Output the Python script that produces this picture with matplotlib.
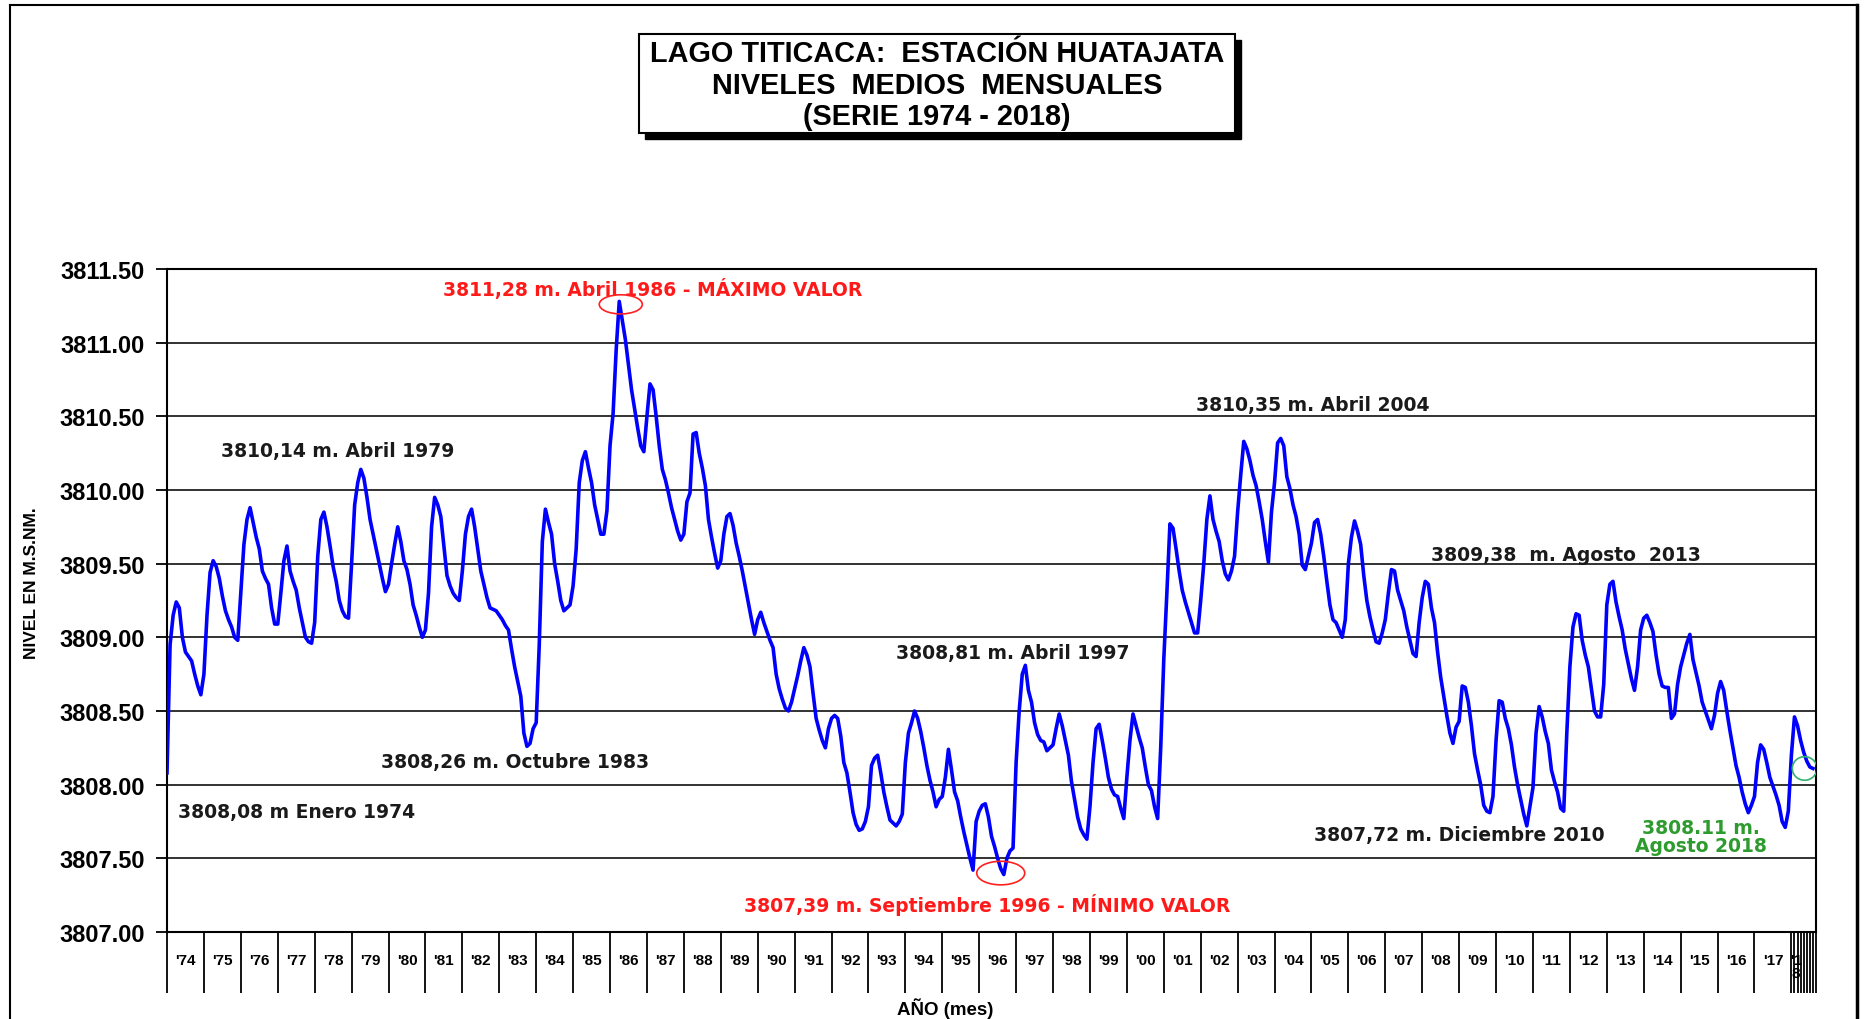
import numpy as np
import matplotlib
matplotlib.use("Agg")
import matplotlib.pyplot as plt
from matplotlib.patches import Ellipse, Rectangle
from matplotlib.lines import Line2D

# Niveles medios mensuales (m.s.n.m.), enero a diciembre de cada año
n1974 = [3808.08, 3808.95, 3809.15, 3809.24, 3809.20, 3809.00, 3808.90, 3808.87, 3808.84, 3808.75, 3808.67, 3808.61]
n1975 = [3808.75, 3809.15, 3809.44, 3809.52, 3809.48, 3809.40, 3809.28, 3809.18, 3809.12, 3809.07, 3809.00, 3808.98]
n1976 = [3809.30, 3809.63, 3809.80, 3809.88, 3809.78, 3809.68, 3809.60, 3809.45, 3809.40, 3809.36, 3809.20, 3809.09]
n1977 = [3809.09, 3809.30, 3809.52, 3809.62, 3809.45, 3809.38, 3809.32, 3809.20, 3809.10, 3809.00, 3808.97, 3808.96]
n1978 = [3809.10, 3809.55, 3809.80, 3809.85, 3809.75, 3809.62, 3809.48, 3809.38, 3809.25, 3809.18, 3809.14, 3809.13]
n1979 = [3809.50, 3809.90, 3810.05, 3810.14, 3810.08, 3809.95, 3809.80, 3809.70, 3809.60, 3809.50, 3809.40, 3809.31]
n1980 = [3809.36, 3809.50, 3809.63, 3809.75, 3809.65, 3809.52, 3809.46, 3809.36, 3809.22, 3809.15, 3809.07, 3809.00]
n1981 = [3809.05, 3809.30, 3809.75, 3809.95, 3809.90, 3809.82, 3809.62, 3809.42, 3809.35, 3809.30, 3809.27, 3809.25]
n1982 = [3809.45, 3809.70, 3809.82, 3809.87, 3809.75, 3809.60, 3809.45, 3809.36, 3809.27, 3809.20, 3809.19, 3809.18]
n1983 = [3809.15, 3809.12, 3809.08, 3809.05, 3808.92, 3808.80, 3808.70, 3808.60, 3808.35, 3808.26, 3808.28, 3808.38]
n1984 = [3808.42, 3808.95, 3809.65, 3809.87, 3809.78, 3809.70, 3809.50, 3809.38, 3809.25, 3809.18, 3809.20, 3809.22]
n1985 = [3809.35, 3809.60, 3810.05, 3810.20, 3810.26, 3810.15, 3810.05, 3809.90, 3809.80, 3809.70, 3809.70, 3809.86]
n1986 = [3810.30, 3810.52, 3810.95, 3811.28, 3811.15, 3811.02, 3810.85, 3810.68, 3810.55, 3810.42, 3810.30, 3810.26]
n1987 = [3810.50, 3810.72, 3810.68, 3810.50, 3810.30, 3810.14, 3810.07, 3809.98, 3809.88, 3809.80, 3809.72, 3809.66]
n1988 = [3809.70, 3809.92, 3809.98, 3810.38, 3810.39, 3810.25, 3810.15, 3810.03, 3809.80, 3809.68, 3809.57, 3809.47]
n1989 = [3809.52, 3809.70, 3809.82, 3809.84, 3809.76, 3809.64, 3809.55, 3809.45, 3809.34, 3809.23, 3809.12, 3809.02]
n1990 = [3809.12, 3809.17, 3809.10, 3809.04, 3808.98, 3808.93, 3808.75, 3808.65, 3808.58, 3808.52, 3808.50, 3808.56]
n1991 = [3808.65, 3808.74, 3808.84, 3808.93, 3808.88, 3808.80, 3808.62, 3808.45, 3808.37, 3808.30, 3808.25, 3808.38]
n1992 = [3808.45, 3808.47, 3808.45, 3808.33, 3808.15, 3808.08, 3807.95, 3807.81, 3807.73, 3807.69, 3807.70, 3807.75]
n1993 = [3807.85, 3808.13, 3808.18, 3808.20, 3808.08, 3807.95, 3807.85, 3807.76, 3807.74, 3807.72, 3807.75, 3807.80]
n1994 = [3808.15, 3808.35, 3808.42, 3808.50, 3808.45, 3808.36, 3808.25, 3808.13, 3808.03, 3807.95, 3807.85, 3807.90]
n1995 = [3807.92, 3808.05, 3808.24, 3808.10, 3807.95, 3807.89, 3807.78, 3807.68, 3807.59, 3807.50, 3807.42, 3807.75]
n1996 = [3807.82, 3807.86, 3807.87, 3807.78, 3807.65, 3807.58, 3807.50, 3807.43, 3807.39, 3807.50, 3807.55, 3807.57]
n1997 = [3808.15, 3808.50, 3808.75, 3808.81, 3808.64, 3808.56, 3808.42, 3808.34, 3808.30, 3808.29, 3808.23, 3808.25]
n1998 = [3808.27, 3808.38, 3808.48, 3808.40, 3808.30, 3808.20, 3808.02, 3807.90, 3807.78, 3807.70, 3807.66, 3807.63]
n1999 = [3807.85, 3808.15, 3808.38, 3808.41, 3808.30, 3808.18, 3808.05, 3807.97, 3807.93, 3807.92, 3807.84, 3807.77]
n2000 = [3808.05, 3808.30, 3808.48, 3808.40, 3808.32, 3808.25, 3808.12, 3808.00, 3807.96, 3807.85, 3807.77, 3808.25]
n2001 = [3808.85, 3809.30, 3809.77, 3809.74, 3809.60, 3809.45, 3809.32, 3809.24, 3809.17, 3809.10, 3809.03, 3809.03]
n2002 = [3809.25, 3809.50, 3809.80, 3809.96, 3809.80, 3809.72, 3809.65, 3809.52, 3809.43, 3809.39, 3809.45, 3809.55]
n2003 = [3809.85, 3810.10, 3810.33, 3810.28, 3810.20, 3810.10, 3810.03, 3809.92, 3809.80, 3809.65, 3809.51, 3809.85]
n2004 = [3810.05, 3810.32, 3810.35, 3810.30, 3810.09, 3810.01, 3809.90, 3809.82, 3809.70, 3809.49, 3809.46, 3809.55]
n2005 = [3809.64, 3809.78, 3809.80, 3809.70, 3809.55, 3809.38, 3809.22, 3809.12, 3809.10, 3809.05, 3809.00, 3809.12]
n2006 = [3809.50, 3809.68, 3809.79, 3809.72, 3809.63, 3809.42, 3809.25, 3809.14, 3809.05, 3808.97, 3808.96, 3809.03]
n2007 = [3809.12, 3809.30, 3809.46, 3809.45, 3809.32, 3809.25, 3809.18, 3809.07, 3808.98, 3808.89, 3808.87, 3809.10]
n2008 = [3809.27, 3809.38, 3809.36, 3809.20, 3809.10, 3808.90, 3808.73, 3808.60, 3808.47, 3808.35, 3808.28, 3808.39]
n2009 = [3808.43, 3808.67, 3808.66, 3808.56, 3808.40, 3808.21, 3808.10, 3808.00, 3807.86, 3807.82, 3807.81, 3807.92]
n2010 = [3808.30, 3808.57, 3808.56, 3808.45, 3808.38, 3808.27, 3808.12, 3808.00, 3807.90, 3807.80, 3807.72, 3807.85]
n2011 = [3807.98, 3808.35, 3808.53, 3808.46, 3808.36, 3808.28, 3808.10, 3808.02, 3807.95, 3807.84, 3807.82, 3808.35]
n2012 = [3808.80, 3809.07, 3809.16, 3809.15, 3808.98, 3808.88, 3808.80, 3808.65, 3808.50, 3808.46, 3808.46, 3808.68]
n2013 = [3809.22, 3809.36, 3809.38, 3809.24, 3809.14, 3809.05, 3808.92, 3808.82, 3808.72, 3808.64, 3808.80, 3809.05]
n2014 = [3809.13, 3809.15, 3809.10, 3809.04, 3808.88, 3808.75, 3808.67, 3808.66, 3808.66, 3808.45, 3808.48, 3808.68]
n2015 = [3808.80, 3808.88, 3808.96, 3809.02, 3808.85, 3808.76, 3808.67, 3808.56, 3808.50, 3808.44, 3808.38, 3808.47]
n2016 = [3808.62, 3808.70, 3808.64, 3808.50, 3808.37, 3808.25, 3808.13, 3808.05, 3807.95, 3807.87, 3807.81, 3807.86]
n2017 = [3807.92, 3808.15, 3808.27, 3808.24, 3808.15, 3808.05, 3807.99, 3807.93, 3807.86, 3807.75, 3807.71, 3807.82]
n2018 = [3808.20, 3808.46, 3808.40, 3808.30, 3808.22, 3808.16, 3808.12, 3808.11]  # hasta agosto

anios = list(range(1974, 2018))
etiquetas = ["'" + str(a)[2:] for a in anios]

niveles = np.concatenate([
    n1974, n1975, n1976, n1977, n1978, n1979, n1980, n1981, n1982, n1983,
    n1984, n1985, n1986, n1987, n1988, n1989, n1990, n1991, n1992, n1993,
    n1994, n1995, n1996, n1997, n1998, n1999, n2000, n2001, n2002, n2003,
    n2004, n2005, n2006, n2007, n2008, n2009, n2010, n2011, n2012, n2013,
    n2014, n2015, n2016, n2017, n2018,
])
meses = np.arange(len(niveles))

W, H = 1866, 1020
fig = plt.figure(figsize=(W / 100, H / 100), dpi=100)

def fx(px):
    return px / W

def fy(py):
    return 1 - py / H

# marco exterior
fig.add_artist(Line2D([fx(10), fx(10)], [fy(6), 0], color="black", lw=1.5))
fig.add_artist(Line2D([fx(10), fx(1857)], [fy(6), fy(6)], color="black", lw=1.5))
fig.add_artist(Line2D([fx(1857), fx(1857)], [fy(6), 0], color="black", lw=2.5))

ax = fig.add_axes([fx(167), fy(933), fx(1816) - fx(167), fy(270) - fy(933)])
ax.plot(meses, niveles, color="#0000ff", lw=2.6, solid_joinstyle="round", zorder=3)

ax.set_xlim(0, 536)
ax.set_ylim(3807.0, 3811.5)

yt = np.arange(3807.0, 3811.51, 0.5)
ax.set_yticks(yt)
ax.set_yticklabels(["%.2f" % v for v in yt], family="Liberation Sans",
                   fontweight="bold", fontsize=17)
ax.yaxis.grid(True, color="#222222", lw=1.3)
ax.tick_params(axis="y", direction="out", length=8, width=1.3, pad=8)

# separadores de año y meses de 2018
sep = list(range(0, 529, 12)) + list(range(529, 537))
ax.set_xticks(sep)
ax.set_xticklabels([])
ax.tick_params(axis="x", which="major", direction="out", length=44, width=1.3)
ax.set_xticks([12 * i + 6 for i in range(len(anios))] + [529.4], minor=True)
ax.set_xticklabels(etiquetas + ["'1\n8"], minor=True, family="Liberation Sans",
                   fontweight="bold", fontsize=11, linespacing=0.9)
ax.tick_params(axis="x", which="minor", length=0, pad=15)

for s in ax.spines.values():
    s.set_color("black")
    s.set_linewidth(1.5)

# anotaciones
txt = dict(ha="center", va="center", fontsize=13.5, fontweight="bold", family="DejaVu Sans")
oscuro = "#1a1a1a"
ax.text(158, 3811.37, "3811,28 m. Abril 1986 - MÁXIMO VALOR", color="#ff1a1a", **txt)
ax.text(55.6, 3810.27, "3810,14 m. Abril 1979", color=oscuro, **txt)
ax.text(113.2, 3808.16, "3808,26 m. Octubre 1983", color=oscuro, **txt)
ax.text(42.2, 3807.82, "3808,08 m Enero 1974", color=oscuro, **txt)
ax.text(274.9, 3808.90, "3808,81 m. Abril 1997", color=oscuro, **txt)
ax.text(266.5, 3807.19, "3807,39 m. Septiembre 1996 - MÍNIMO VALOR", color="#ff1a1a", **txt)
ax.text(372.4, 3810.58, "3810,35 m. Abril 2004", color=oscuro, **txt)
ax.text(454.7, 3809.56, "3809,38  m. Agosto  2013", color=oscuro, **txt)
ax.text(420.0, 3807.66, "3807,72 m. Diciembre 2010", color=oscuro, **txt)
ax.text(498.6, 3807.65, "3808.11 m.\nAgosto 2018", color="#2e9b2e", linespacing=0.95, **txt)

ax.add_patch(Ellipse((147.5, 3811.26), 14, 0.13, fill=False, ec="#ff2020", lw=1.2, zorder=4))
ax.add_patch(Ellipse((271, 3807.40), 15.6, 0.16, fill=False, ec="#ff2020", lw=1.2, zorder=4))
ax.add_patch(Ellipse((532.3, 3808.11), 8, 0.16, fill=False, ec="#33b070", lw=1.2, zorder=4))

fig.text(fx(32), fy(583), "NIVEL EN M.S.NM.", rotation=90, ha="center", va="center",
         family="Liberation Sans", fontweight="bold", fontsize=12.5)
fig.text(fx(945), fy(1009), "AÑO (mes)", ha="center", va="center",
         family="Liberation Sans", fontweight="bold", fontsize=13.5)

# cuadro del título con sombra
fig.add_artist(Rectangle((fx(645), fy(140)), fx(1241) - fx(645), fy(41) - fy(140),
                         transform=fig.transFigure, facecolor="black", edgecolor="black"))
fig.add_artist(Rectangle((fx(639), fy(134)), fx(1235) - fx(639), fy(35) - fy(134),
                         transform=fig.transFigure, facecolor="white", edgecolor="black", lw=1.5))
titulo = ["LAGO TITICACA:  ESTACIÓN HUATAJATA", "NIVELES  MEDIOS  MENSUALES", "(SERIE 1974 - 2018)"]
for i, linea in enumerate(titulo):
    fig.text(fx(937), fy(54 + 31.5 * i), linea, ha="center", va="center",
             family="Liberation Sans", fontweight="bold", fontsize=20.8)

fig.savefig("out.png", dpi=100)
